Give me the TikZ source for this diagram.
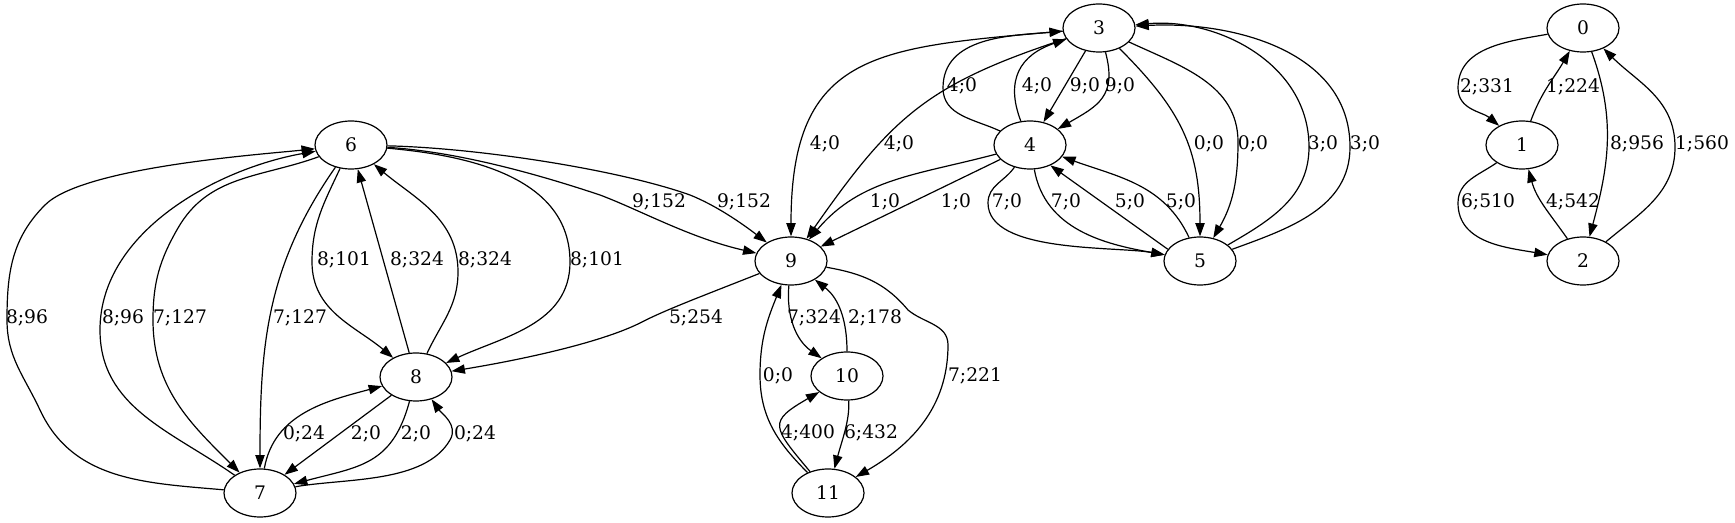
\documentclass[tikz,border=0pt]{standalone}
\usepackage{fontspec}
\setmainfont{DejaVu Serif}
\usetikzlibrary{arrows.meta,shapes.geometric}
\begin{document}
\begin{tikzpicture}[x=0.75pt,y=-0.75pt,
  vtx/.style={draw, ellipse, minimum width=54pt, minimum height=36pt, inner sep=0pt, line width=0.9pt, font=\fontsize{14}{16}\selectfont},
  e/.style={draw, line width=0.9pt, -{Triangle[length=10pt,width=7pt]}},
  lbl/.style={inner sep=0pt, font=\fontsize{14}{16}\selectfont}]
\useasboundingbox (0,0) rectangle (1735,523);
% nodes
\node[vtx] (n0) at (1583,28) {0};
\node[vtx] (n1) at (1522,145) {1};
\node[vtx] (n2) at (1583,261) {2};
\node[vtx] (n3) at (1099,28) {3};
\node[vtx] (n4) at (1030,145) {4};
\node[vtx] (n5) at (1200,261) {5};
\node[vtx] (n6) at (351,145) {6};
\node[vtx] (n7) at (260,493) {7};
\node[vtx] (n8) at (416,377) {8};
\node[vtx] (n9) at (791,261) {9};
\node[vtx] (n10) at (847,376) {10};
\node[vtx] (n11) at (828,493) {11};
% component 0,1,2
\draw[e] (n0) to[out=190,in=90] (1458,88) to[out=-90,in=140] (n1);
\draw[e] (n1) to[out=70,in=-120] (n0);
\draw[e] (n0) to[out=-70,in=75] (n2);
\draw[e] (n2) to[out=40,in=-90] (1675,147) to[out=90,in=-45] (n0);
\draw[e] (n1) to[out=-145,in=90] (1458,203) to[out=-90,in=170] (n2);
\draw[e] (n2) to[out=125,in=-75] (n1);
\node[lbl] (l01) at (1487,87) {2;331};
\node[lbl] (l10) at (1573,87) {1;224};
\node[lbl] (l02) at (1637,144) {8;956};
\node[lbl] (l20) at (1702,144) {1;560};
\node[lbl] (l12) at (1488,202) {6;510};
\node[lbl] (l21) at (1573,202) {4;542};
% component 3,4,5
\draw[e] (n3) -- (n4);
\draw[e] (n3) to[out=-75,in=30,looseness=1.3] (n4);
\draw[e] (n4) .. controls (1005,80) and (1020,55) .. (n3);
\draw[e] (n4) to[out=155,in=-90] (943,88) to[out=90,in=185] (n3);
\draw[e] (n3) to[out=-45,in=90,looseness=1.1] (n5);
\draw[e] (n3) to[out=-25,in=90] (1238,142) to[out=-90,in=60] (n5);
\draw[e] (n5) to[out=30,in=-90] (1309,147) to[out=90,in=5] (n3);
\draw[e] (n5) to[out=20,in=-90] (1350,147) to[out=90,in=3] (n3);
\draw[e] (n4) to[out=-125,in=90] (988,203) to[out=-90,in=170,looseness=0.7] (n5);
\draw[e] (n4) to[out=-80,in=170] (n5);
\draw[e] (n5.160) -- (n4.-45);
\draw[e] (n5) to[out=115,in=-20] (n4);
\node[lbl] (l34a) at (1085,86) {9;0};
\node[lbl] (l34b) at (1120,86) {9;0};
\node[lbl] (l43a) at (962,86) {4;0};
\node[lbl] (l43b) at (1037,86) {4;0};
\node[lbl] (l35a) at (1209,144) {0;0};
\node[lbl] (l35b) at (1253,144) {0;0};
\node[lbl] (l53a) at (1323,144) {3;0};
\node[lbl] (l53b) at (1365,144) {3;0};
\node[lbl] (l45a) at (1007,202) {7;0};
\node[lbl] (l45b) at (1066,202) {7;0};
\node[lbl] (l54a) at (1130,202) {5;0};
\node[lbl] (l54b) at (1181,202) {5;0};
% 3,4 -> 9
\draw[e] (n3) to[out=185,in=90,looseness=1.4] (n9);
\draw[e] (n3) to[out=198,in=55,looseness=1.15] (n9);
\draw[e] (n4) to[out=195,in=50] (n9);
\draw[e] (n4) -- (n9);
\node[lbl] (l39a) at (825,144) {4;0};
\node[lbl] (l39b) at (899,144) {4;0};
\node[lbl] (l49a) at (885,202) {1;0};
\node[lbl] (l49b) at (956,202) {1;0};
% 6 -> 9
\draw[e] (n6) .. controls (460,152) and (540,175) .. (600,195) .. controls (640,210) and (690,238) .. (n9);
\draw[e] (n6) .. controls (480,148) and (620,170) .. (690,195) .. controls (715,205) and (740,222) .. (n9);
\node[lbl] (l69a) at (659,202) {9;152};
\node[lbl] (l69b) at (744,202) {9;152};
% 9 -> 8
\draw[e] (n9) .. controls (700,297) and (665,310) .. (640,323) .. controls (600,343) and (520,360) .. (n8);
\node[lbl] (l98) at (696,318) {5;254};
% 6 <-> 8
\draw[e] (n6) to[out=-115,in=90] (312,262) to[out=-90,in=140] (n8);
\draw[e] (n8) -- (n6);
\draw[e] (n8) to[out=65,in=-90] (458,272) to[out=90,in=-40] (n6);
\draw[e] (n6) to[out=-5,in=90] (570,262) to[out=-90,in=25] (n8);
\node[lbl] (l68a) at (344,260) {8;101};
\node[lbl] (l86a) at (417,260) {8;324};
\node[lbl] (l86b) at (485,260) {8;324};
\node[lbl] (l68b) at (597,260) {8;101};
% 6 <-> 7
\draw[e] (n7) to[out=175,in=-65] (40,410) to[out=115,in=-90] (7,320) to[out=90,in=-135] (45,205) to[out=45,in=186,looseness=0.5] (n6);
\draw[e] (n7) to[out=145,in=-90] (100,330) to[out=90,in=190,looseness=0.9] (n6);
\draw[e] (n6) to[out=200,in=60] (178,228) to[out=-120,in=90] (153,320) to[out=-90,in=135] (n7);
\draw[e] (n6) to[out=-125,in=90] (n7);
\node[lbl] (l76a) at (27,318) {8;96};
\node[lbl] (l76b) at (123,318) {8;96};
\node[lbl] (l67a) at (180,318) {7;127};
\node[lbl] (l67b) at (300,318) {7;127};
% 7 <-> 8
\draw[e] (n7) to[out=80,in=195] (n8);
\draw[e] (n8) -- (n7);
\draw[e] (n8) to[out=-105,in=15,looseness=1.2] (n7);
\draw[e] (n7) to[out=10,in=-120,looseness=0.8] (450,440) to[out=60,in=-55] (n8);
\node[lbl] (l78a) at (304,434) {0;24};
\node[lbl] (l87a) at (366,434) {2;0};
\node[lbl] (l87b) at (416,434) {2;0};
\node[lbl] (l78b) at (475,434) {0;24};
% 9,10,11
\draw[e] (n9) to[out=-95,in=145] (n10);
\draw[e] (n10) to[out=90,in=-38] (n9);
\draw[e] (n9) to[out=-10,in=130] (908,310) to[out=-40,in=90] (948,345) to[out=-90,in=30] (n11);
\draw[e] (n11) to[out=135,in=-90] (760,375) to[out=90,in=-112] (n9);
\draw[e] (n11) to[out=130,in=-150,looseness=1.9] (n10);
\draw[e] (n10) .. controls (850,420) and (842,440) .. (n11);
\node[lbl] (l910) at (814,318) {7;324};
\node[lbl] (l109) at (875,318) {2;178};
\node[lbl] (l911) at (975,376) {7;221};
\node[lbl] (l119) at (778,376) {0;0};
\node[lbl] (l1110) at (808,433) {4;400};
\node[lbl] (l1011) at (871,433) {6;432};
\end{tikzpicture}
\end{document}
